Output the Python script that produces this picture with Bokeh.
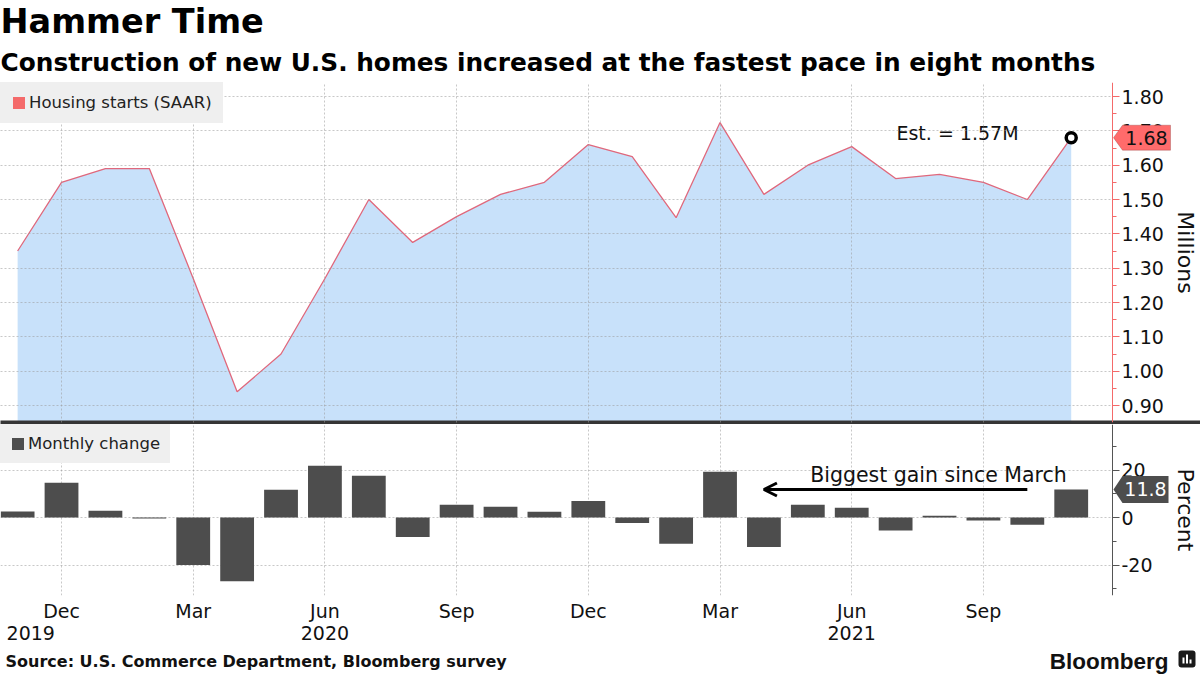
from bokeh.plotting import figure
from bokeh.models import (Range1d, LinearAxis, FixedTicker, SingleIntervalTicker,
                          NumeralTickFormatter, Label, Arrow, OpenHead, PolyAnnotation,
                          BoxAnnotation, Legend, LegendItem, Title, ColumnDataSource)
from bokeh.layouts import column
from bokeh.embed import file_html
from bokeh.resources import INLINE

# ---------------- data ----------------
months = ["2019-11", "2019-12", "2020-01", "2020-02", "2020-03", "2020-04", "2020-05",
          "2020-06", "2020-07", "2020-08", "2020-09", "2020-10", "2020-11", "2020-12",
          "2021-01", "2021-02", "2021-03", "2021-04", "2021-05", "2021-06", "2021-07",
          "2021-08", "2021-09", "2021-10", "2021-11"]
starts = [1.35, 1.55, 1.59, 1.59, 1.27, 0.94, 1.05, 1.27, 1.50, 1.375, 1.45, 1.515, 1.55,
          1.66, 1.625, 1.447, 1.724, 1.515, 1.60, 1.654, 1.561, 1.573, 1.55, 1.50, 1.68]
change = [2.5, 14.6, 2.8, -0.4, -20.0, -26.8, 11.7, 21.8, 17.6, -8.2, 5.4, 4.5, 2.4, 7.0,
          -2.3, -11.0, 19.3, -12.4, 5.4, 4.1, -5.5, 0.7, -1.3, -3.0, 11.8]
month_ticks = [1, 4, 7, 10, 13, 16, 19, 22]
month_labels = ["Dec", "Mar", "Jun", "Sep", "Dec", "Mar", "Jun", "Sep"]
year_ticks = [0.3, 7, 19]
year_labels = ["2019", "2020", "2021"]
estimate_text = "Est. = 1.57M"

idx = list(range(len(months)))
src = ColumnDataSource(dict(x=idx, starts=starts, change=change, month=months))

FONT = "DejaVu Sans"
RED = "#f46a6a"
LINE = "#e0687c"
AREA = "#c8e1fa"
BAR = "#4d4d4d"
GRID = "#9a9a9a"
LEGBG = "#efefef"
W = 1200
PXM = 43.9                 # pixels per month
X0 = -0.39
AX = X0 + 1112 / PXM       # position of the value axes
x_range = Range1d(X0, X0 + W / PXM)

# ---------------- top panel ----------------
TOP_FH = 340
top_y = Range1d(0.8505, 1.8408)
top = figure(frame_width=W, frame_height=TOP_FH, x_range=x_range, y_range=top_y,
             output_backend="svg", toolbar_location=None,
             min_border_left=0, min_border_right=0, min_border_top=82, min_border_bottom=2,
             y_axis_location="right", x_axis_location=None)
top.outline_line_color = None
top.title.text = "Hammer Time"
top.title.text_font = FONT
top.title.text_font_size = "33.5px"
top.title.text_font_style = "bold"
top.title.text_color = "#000000"
top.title.align = "left"
top.title.standoff = -3
top.add_layout(Title(text="Construction of new U.S. homes increased at the fastest pace in eight months",
                     text_font=FONT, text_font_size="24.8px", text_font_style="bold",
                     text_color="#000000", align="left", standoff=12), "above")

top.varea(x="x", y1=0, y2="starts", source=src, fill_color=AREA)
top.line(x="x", y="starts", source=src, line_color=LINE, line_width=1.3)
top.scatter(x=[idx[-1]], y=[starts[-1]], size=10, fill_color="white",
            line_color="black", line_width=3.5)

ya = top.yaxis[0]
ya.fixed_location = AX
ya.ticker = SingleIntervalTicker(interval=0.1, num_minor_ticks=2)
ya.formatter = NumeralTickFormatter(format="0.00")
ya.axis_line_color = RED
ya.major_tick_line_color = RED
ya.minor_tick_line_color = RED
ya.major_tick_in = 0
ya.major_tick_out = 7
ya.minor_tick_in = 0
ya.minor_tick_out = 4
ya.major_label_text_font = FONT
ya.major_label_text_font_size = "19px"
ya.major_label_text_color = "#111111"
ya.major_label_standoff = 2
ya.axis_label = "Millions"
ya.axis_label_text_font = FONT
ya.axis_label_text_font_size = "22px"
ya.axis_label_text_font_style = "normal"
ya.axis_label_text_color = "#111111"
ya.axis_label_standoff = 6

# separator line between the panels
sep_axis = LinearAxis(ticker=FixedTicker(ticks=[]), axis_line_width=4,
                      axis_line_color="#353535", major_tick_in=0, major_tick_out=0,
                      minor_tick_in=0, minor_tick_out=0, major_label_standoff=0)
top.add_layout(sep_axis, "below")

top.xgrid.ticker = FixedTicker(ticks=month_ticks)
top.ygrid.cross_bounds = (X0, AX)
for g in (top.xgrid[0], top.ygrid[0]):
    g.grid_line_color = GRID
    g.grid_line_alpha = 0.55
    g.grid_line_dash = "2 2"
    g.level = "overlay"

key1 = top.vbar(x="x", top="starts", source=src, width=0.5, fill_color=RED,
                line_color=None, visible=False)
leg1 = Legend(items=[LegendItem(label="Housing starts (SAAR)", renderers=[key1])],
              location="top_left", margin=0, padding=10, glyph_width=15, glyph_height=15,
              label_standoff=3, label_height=19, label_text_font=FONT,
              label_text_font_size="16.5px", label_text_color="#222222",
              background_fill_color=LEGBG, background_fill_alpha=1,
              border_line_color=LEGBG, border_line_width=1, inactive_fill_alpha=0)
top.add_layout(leg1)

top.add_layout(Label(x=22.8, y=1.695, text=estimate_text, text_align="right",
                     text_baseline="middle", text_font=FONT, text_font_size="19px",
                     text_color="#111111"))

# value tag for the latest housing starts reading
tv = starts[-1]
th = 12.5 * (top_y.end - top_y.start) / TOP_FH
top.add_layout(PolyAnnotation(xs=[AX + 1 / PXM, AX + 10 / PXM, AX + 58 / PXM,
                                  AX + 58 / PXM, AX + 10 / PXM],
                              ys=[tv, tv + th, tv + th, tv - th, tv - th],
                              fill_color="#ff6b6b", fill_alpha=1,
                              line_color="#7a2a2a", line_width=1, level="annotation"))
top.add_layout(Label(x=AX, y=tv, x_offset=34, text=f"{tv:.2f}",
                     text_align="center", text_baseline="middle", text_font=FONT,
                     text_font_size="19px", text_color="#111111"))

# ---------------- bottom panel ----------------
BOT_FH = 171
bot_y = Range1d(-32.84, 39.16)
bot = figure(frame_width=W, frame_height=BOT_FH, x_range=x_range, y_range=bot_y,
             output_backend="svg", toolbar_location=None,
             min_border_left=0, min_border_right=0, min_border_top=0, min_border_bottom=50,
             y_axis_location="right")
bot.outline_line_color = None

bars = bot.vbar(x="x", top="change", source=src, width=0.77, fill_color=BAR, line_color=None)

xa = bot.xaxis[0]
xa.ticker = FixedTicker(ticks=month_ticks)
xa.major_label_overrides = {t: l for t, l in zip(month_ticks, month_labels)}
xa.axis_line_color = None
xa.major_tick_line_color = None
xa.minor_tick_line_color = None
xa.major_tick_in = 0
xa.major_tick_out = 0
xa.major_label_text_font = FONT
xa.major_label_text_font_size = "19px"
xa.major_label_text_color = "#111111"
xa.major_label_standoff = 4

xa2 = LinearAxis(ticker=FixedTicker(ticks=year_ticks),
                 major_label_overrides={t: l for t, l in zip(year_ticks, year_labels)})
xa2.axis_line_color = None
xa2.major_tick_line_color = None
xa2.minor_tick_line_color = None
xa2.major_tick_in = 0
xa2.major_tick_out = 0
xa2.major_label_text_font = FONT
xa2.major_label_text_font_size = "19px"
xa2.major_label_text_color = "#111111"
xa2.major_label_standoff = 1
bot.add_layout(xa2, "below")

yb = bot.yaxis[0]
yb.fixed_location = AX
yb.ticker = SingleIntervalTicker(interval=20, num_minor_ticks=2)
yb.formatter = NumeralTickFormatter(format="0")
yb.axis_line_color = "#555555"
yb.major_tick_line_color = "#555555"
yb.minor_tick_line_color = "#555555"
yb.major_tick_in = 0
yb.major_tick_out = 7
yb.minor_tick_in = 0
yb.minor_tick_out = 4
yb.major_label_text_font = FONT
yb.major_label_text_font_size = "19px"
yb.major_label_text_color = "#111111"
yb.major_label_standoff = 2
yb.axis_label = "Percent"
yb.axis_label_text_font = FONT
yb.axis_label_text_font_size = "22px"
yb.axis_label_text_font_style = "normal"
yb.axis_label_text_color = "#111111"
yb.axis_label_standoff = 17

bot.xgrid.ticker = FixedTicker(ticks=month_ticks)
bot.ygrid.cross_bounds = (X0, AX)
for g in (bot.xgrid[0], bot.ygrid[0]):
    g.grid_line_color = GRID
    g.grid_line_alpha = 0.55
    g.grid_line_dash = "2 2"

leg2 = Legend(items=[LegendItem(label="Monthly change", renderers=[bars])],
              location="top_left", margin=0, padding=9, glyph_width=15, glyph_height=15,
              label_standoff=3, label_height=19, label_text_font=FONT,
              label_text_font_size="16.5px", label_text_color="#222222",
              background_fill_color=LEGBG, background_fill_alpha=1,
              border_line_color=LEGBG, border_line_width=1)
bot.add_layout(leg2)

cv = change[-1]
bot.add_layout(Label(x=23.9, y=17.7, text="Biggest gain since March", text_align="right",
                     text_baseline="middle", text_font=FONT, text_font_size="20.5px",
                     text_color="#111111"))
bot.add_layout(Arrow(x_start=23.0, y_start=cv, x_end=17.0, y_end=cv, line_width=3,
                     line_color="black",
                     end=OpenHead(size=13, line_width=3, line_color="black")))

bh = 13.5 * (bot_y.end - bot_y.start) / BOT_FH
bot.add_layout(PolyAnnotation(xs=[AX + 1 / PXM, AX + 10 / PXM, AX + 56 / PXM,
                                  AX + 56 / PXM, AX + 10 / PXM],
                              ys=[cv, cv + bh, cv + bh, cv - bh, cv - bh],
                              fill_color="#4d4d4d", fill_alpha=1,
                              line_color=None, level="annotation"))
bot.add_layout(Label(x=AX, y=cv, x_offset=33, text=f"{cv:.1f}",
                     text_align="center", text_baseline="middle", text_font=FONT,
                     text_font_size="19px", text_color="white"))

# ---------------- footer ----------------
foot = figure(frame_width=W, frame_height=30, x_range=Range1d(0, W), y_range=Range1d(0, 30),
              output_backend="svg", toolbar_location=None,
              min_border_left=0, min_border_right=0, min_border_top=0, min_border_bottom=0,
              x_axis_location=None, y_axis_location=None)
foot.outline_line_color = None
foot.xgrid.visible = False
foot.ygrid.visible = False
foot.add_layout(Label(x=5, y=14, text="Source: U.S. Commerce Department, Bloomberg survey",
                      text_baseline="middle", text_font=FONT, text_font_size="16px",
                      text_font_style="bold", text_color="#111111"))
foot.add_layout(Label(x=1168, y=14, text="Bloomberg", text_align="right",
                      text_baseline="middle", text_font="Liberation Sans",
                      text_font_size="22.5px", text_font_style="bold", text_color="#111111"))
# small logo mark
foot.add_layout(BoxAnnotation(left=1178, right=1195, bottom=8, top=25, fill_color="#1a1a1a",
                              fill_alpha=1, line_color=None, border_radius=3))
for l, r, t in ((1182, 1184, 18), (1185.5, 1187.5, 21), (1189, 1191, 16)):
    foot.add_layout(BoxAnnotation(left=l, right=r, bottom=12, top=t, fill_color="white",
                                  fill_alpha=1, line_color=None))

layout = column(top, bot, foot, spacing=0)
open("out.html", "w").write(file_html(layout, INLINE))
